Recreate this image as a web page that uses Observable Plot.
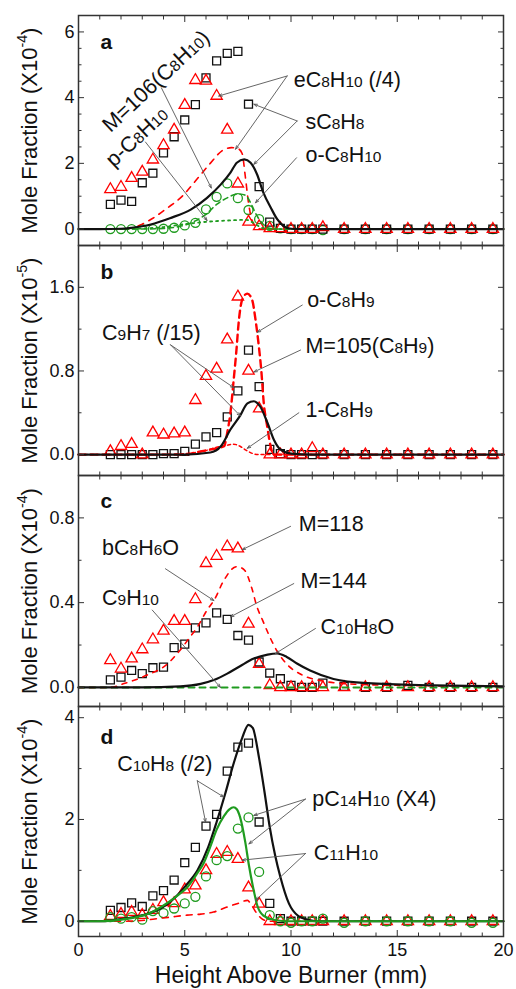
<!DOCTYPE html>
<html><head><meta charset="utf-8">
<script src="https://cdn.jsdelivr.net/npm/d3@7"></script>
<script src="https://cdn.jsdelivr.net/npm/@observablehq/plot@0.6"></script>
<style>
html,body{margin:0;padding:0;background:#fff;}
#chart svg{display:block;overflow:visible;}
</style></head>
<body><div id="chart"></div>
<script>
// ---------- data ----------
const hab = [1.5,2,2.5,3,3.5,4,4.5,5,5.5,6,6.5,7,7.5,8,8.5,9,9.5,10,10.5,11,11.5,12.5,13.5,14.5,15.5,16.5,17.5,18.5,19.5];

// panel a (X10^-4)
const a_M106   = [0.75,0.88,0.84,1.41,1.70,2.32,2.81,3.32,3.79,4.60,5.12,5.35,5.41,3.80,1.29,0.21,0.02,0,0,0,0,0,0,0,0,0,0,0,0];
const a_eC8H10 = [1.21,1.28,1.55,1.74,2.11,2.55,3.02,3.77,4.53,4.51,4.05,3.02,1.38,0.22,0.08,0.02,0.02,0,0,0,0.05,0,0,0,0,0,0,0,0];
const a_xylene = [0,0,0,0,0,0.01,0.04,0.11,0.19,0.60,0.98,1.39,0.94,0.58,0.30,0.10,0.02,0,0,0,-0.03,0,0,0,0,0,0,0,0];
const a_sC8H8_fx = [0,1,2,2.5,3.4,4.3,5.3,6.05,6.7,7.15,7.45,7.8,8.1,8.4,8.7,9.05,9.35,9.65,10,10.5,20];
const a_sC8H8_fy = [0,0,0.01,0.04,0.14,0.33,0.6,0.95,1.36,1.72,2.02,2.12,2.02,1.67,1.11,0.65,0.3,0.09,0.01,0,0];
const a_eC8H10_fx = [0,2,2.5,3,3.5,4.2,4.85,5.55,6.2,6.75,7.2,7.5,7.7,7.85,8.0,8.15,8.35,8.6,20];
const a_eC8H10_fy = [0,0,0.03,0.15,0.33,0.65,0.98,1.5,2.0,2.38,2.48,2.45,2.3,1.6,0.8,0.3,0.08,0,0];
const a_oC8H10_fx = [0,3,4,5,5.5,6,6.5,7,7.5,7.85,8.1,8.3,8.5,8.7,9,9.5,20];
const a_oC8H10_fy = [0,0,0.02,0.12,0.25,0.45,0.75,0.95,1.07,1.03,0.8,0.52,0.3,0.14,0.02,0,0];
const a_pC8H10_fx = [0,2,3,4,5,6,7,7.9,8.2,8.5,8.8,9.1,20];
const a_pC8H10_fy = [0,0,0.02,0.06,0.15,0.22,0.26,0.28,0.2,0.08,0.01,0,0];

// panel b (X10^-5)
const b_C9H7 = [0,0,0,0,0,0.01,0.01,0.03,0.10,0.17,0.21,0.36,0.61,1.00,0.65,0.05,0.01,0,0,0,0,0,0,0,0,0,0,0,0];
const b_M105 = [0.03,0.08,0.10,0,0.21,0.19,0.20,0.21,0.52,0.75,0.82,1.10,1.51,0.80,0.44,0,0,0,0,0.06,0,0,0,0,0,0,0,0,0];
const b_C9H7_fx = [0,5,6.2,6.7,7.15,7.6,7.95,8.25,8.55,8.9,9.2,9.5,10,11,20];
const b_C9H7_fy = [0,0,0.02,0.08,0.24,0.37,0.49,0.51,0.46,0.3,0.14,0.05,0.01,0,0];
const b_oC8H9_fx = [0,5,5.5,6,6.5,6.85,7.0,7.15,7.3,7.42,7.55,7.7,7.94,8.17,8.33,8.49,8.6,8.72,8.88,9.04,9.2,20];
const b_oC8H9_fy = [0,0,0.02,0.04,0.06,0.08,0.21,0.4,0.71,0.97,1.29,1.48,1.54,1.48,1.29,1.03,0.81,0.49,0.27,0.08,0,0];
const b_1C8H9_fx = [0,4,5,5.5,6,6.5,7,7.3,7.6,7.9,8.2,8.5,20];
const b_1C8H9_fy = [0,0,0.01,0.02,0.04,0.07,0.09,0.1,0.08,0.04,0.01,0,0];

// panel c (X10^-4)
const c_M118 = [0.128,0.088,0.136,0.179,0.226,0.267,0.313,0.313,0.416,0.586,0.62,0.665,0.655,0.30,0.11,0.01,0,0,0,0,0,0,0,0,0,0,0,0,0];
const c_M144 = [0.036,0.049,0.08,0.065,0.093,0.096,0.188,0.204,0.281,0.305,0.352,0.321,0.245,0.223,0.12,0.068,0.041,0.01,0,0,0.02,0.005,0,0,0.01,0,0,0,0];
const c_bC8H6O_fx = [0,1.5,2.1,3.2,4.2,4.65,5.25,5.6,6.05,6.4,6.85,7.45,7.8,8.15,8.4,8.65,8.95,9.35,9.8,10.5,11.5,13,15,20];
const c_bC8H6O_fy = [0,0,0.017,0.057,0.112,0.16,0.238,0.286,0.365,0.415,0.507,0.57,0.555,0.47,0.38,0.32,0.25,0.17,0.11,0.06,0.03,0.015,0.01,0.005];
const c_C10H8O_fx = [0,3,4.8,5.75,6.4,7.0,7.6,8.25,8.9,9.35,9.8,10.3,10.9,12,13.6,16.7,20];
const c_C10H8O_fy = [0,0,0.005,0.017,0.036,0.065,0.1,0.136,0.155,0.16,0.144,0.112,0.08,0.04,0.02,0.01,0.005];
const c_C9H10_fx = [0,20];
const c_C9H10_fy = [0,0];

// panel d (X10^-4)
const d_C10H8   = [0.215,0.27,0.36,0.29,0.5,0.6,0.81,1.15,1.45,1.87,2.1,2.95,3.42,3.5,1.95,0.35,0.05,0,0,0,0,0,0,0,0,0,0,0,0];
const d_C11H10  = [0.1,0.14,0.18,0.12,0.22,0.37,0.35,0.62,0.7,1.0,1.32,1.36,1.22,0.66,0.34,0,0,0,0,0,0,0,0,0,0,0,0,0,0];
const d_pC14H10 = [0.08,0.05,0.08,0.03,0.2,0.16,0.25,0.35,0.48,0.88,1.2,1.28,1.82,2.04,0.97,0.12,0,-0.03,0,0,0.05,-0.03,0,0,0,0,0,-0.03,-0.03];
const d_C10H8_fx = [0,1,2.3,3.2,3.9,4.5,5.05,5.6,6.1,6.5,6.9,7.3,7.7,8.0,8.2,8.5,8.75,9.0,9.25,9.5,9.9,10.35,10.8,11.2,20];
const d_C10H8_fy = [0,0,0.06,0.14,0.26,0.45,0.7,1.0,1.45,1.95,2.5,3.1,3.6,3.86,3.8,3.2,2.55,1.85,1.3,0.87,0.35,0.1,0.03,0,0];
const d_pC14H10_fx = [0,1,2.5,3.3,4.0,4.7,5.1,5.6,5.9,6.2,6.5,6.85,7.1,7.3,7.45,7.6,7.85,8.02,8.2,8.42,8.7,9.1,9.5,10,20];
const d_pC14H10_fy = [0,0,0.06,0.15,0.31,0.52,0.66,0.95,1.15,1.46,1.8,2.07,2.2,2.24,2.2,2.05,1.55,1.1,0.7,0.3,0.11,0.04,0.01,0,0];
const d_C11H10_fx = [0,2,3.1,3.7,4.3,5.1,5.75,6.35,7.0,7.5,7.95,8.15,8.4,8.7,9,20];
const d_C11H10_fy = [0,0,0.02,0.05,0.08,0.12,0.14,0.18,0.28,0.35,0.41,0.31,0.15,0.03,0,0];

// axes
const xMajor = [0,5,10,15,20];
const xMinor = [1,2,3,4,6,7,8,9,11,12,13,14,16,17,18,19];
const xTickLabels = ["0","5","10","15","20"];
const xTitle = "Height Above Burner (mm)";
const a_yMajor = [0,2,4,6], a_yMinor = [0.5,1,1.5,2.5,3,3.5,4.5,5,5.5], a_yTickLabels = ["0","2","4","6"];
const b_yMajor = [0,0.8,1.6], b_yMinor = [0.4,1.2], b_yTickLabels = ["0.0","0.8","1.6"];
const c_yMajor = [0,0.4,0.8], c_yMinor = [0.2,0.6], c_yTickLabels = ["0.0","0.4","0.8"];
const d_yMajor = [0,2,4], d_yMinor = [1,3], d_yTickLabels = ["0","2","4"];
const yTitles = ["Mole Fraction (X10⁻⁴)","Mole Fraction (X10⁻⁵)","Mole Fraction (X10⁻⁴)","Mole Fraction (X10⁻⁴)"];
const panelLetters = ["a","b","c","d"];

// annotations (data coordinates)
const a_notes = [
  {x:3.65, y:4.5, label:"M=106(C8H10)", rotate:-43},
  {x:2.75, y:2.8, label:"p-C8H10", rotate:-43},
  {x:10.13, y:4.33, label:"eC8H10 (/4)"},
  {x:10.68, y:3.06, label:"sC8H8"},
  {x:10.68, y:2.04, label:"o-C8H10"}
];
const a_arrows = [
  {x1:3.9,y1:4.3,x2:6.25,y2:1.25},
  {x1:3.15,y1:2.65,x2:6.05,y2:0.26},
  {x1:9.82,y1:4.66,x2:6.6,y2:4.05},
  {x1:9.82,y1:4.66,x2:7.39,y2:2.43},
  {x1:10.29,y1:3.29,x2:8.25,y2:3.8},
  {x1:10.29,y1:3.29,x2:8.25,y2:1.97},
  {x1:10.26,y1:2.17,x2:8.33,y2:0.8}
];
const b_notes = [
  {x:10.76, y:1.41, label:"o-C8H9"},
  {x:10.68, y:0.97, label:"M=105(C8H9)"},
  {x:1.11, y:1.1, label:"C9H7 (/15)"},
  {x:10.68, y:0.36, label:"1-C8H9"}
];
const b_arrows = [
  {x1:10.53,y1:1.43,x2:8.41,y2:1.17},
  {x1:10.45,y1:1.0,x2:8.25,y2:0.79},
  {x1:4.33,y1:1.05,x2:7.31,y2:0.64},
  {x1:4.33,y1:1.05,x2:7.62,y2:0.37},
  {x1:10.37,y1:0.4,x2:7.94,y2:0.06}
];
const c_notes = [
  {x:10.37, y:0.736, label:"M=118"},
  {x:1.11, y:0.626, label:"bC8H6O"},
  {x:10.45, y:0.468, label:"M=144"},
  {x:1.11, y:0.389, label:"C9H10"},
  {x:11.39, y:0.254, label:"C10H8O"}
];
const c_arrows = [
  {x1:9.98,y1:0.76,x2:7.7,y2:0.65},
  {x1:4.09,y1:0.56,x2:6.37,y2:0.41},
  {x1:10.13,y1:0.49,x2:7.15,y2:0.333},
  {x1:3.47,y1:0.365,x2:6.68,y2:0.0},
  {x1:11.15,y1:0.278,x2:9.27,y2:0.16}
];
const d_notes = [
  {x:1.82, y:2.96, label:"C10H8 (/2)"},
  {x:11.0, y:2.27, label:"pC14H10 (X4)"},
  {x:11.07, y:1.2, label:"C11H10"}
];
const d_arrows = [
  {x1:5.59,y1:2.76,x2:5.98,y2:1.95},
  {x1:5.59,y1:2.76,x2:6.84,y2:2.44},
  {x1:10.68,y1:2.4,x2:8.25,y2:2.08},
  {x1:10.68,y1:2.4,x2:8.02,y2:1.52},
  {x1:10.68,y1:1.33,x2:7.7,y2:1.2},
  {x1:10.68,y1:1.33,x2:8.33,y2:0.41}
];

// ---------- drawing ----------
const FONT = "'Liberation Sans', Arial, Helvetica, sans-serif";
const RED = "#ff0000", GREEN = "#1f9b1f", BLACK = "#111";
const pts = (xs, ys) => xs.map((x, i) => ({x, y: ys[i]}));

const panels = [
  {height:245, mt:15, mb:0, dom:[-0.5,6.5], maj:a_yMajor, min:a_yMinor, lab:a_yTickLabels, letterDy:33,
   lines:[
     {x:a_eC8H10_fx, y:a_eC8H10_fy, c:RED, w:1.6, dash:"6,6"},
     {x:a_oC8H10_fx, y:a_oC8H10_fy, c:GREEN, w:1.6, dash:"5,4"},
     {x:a_pC8H10_fx, y:a_pC8H10_fy, c:GREEN, w:1.8, dash:"2,4"},
     {x:a_sC8H8_fx, y:a_sC8H8_fy, c:BLACK, w:2.2}
   ],
   dots:[
     {y:a_xylene, c:GREEN, s:"circle", r:4.5},
     {y:a_M106, c:BLACK, s:"square", r:4.5},
     {y:a_eC8H10, c:RED, s:"triangle", r:4.2}
   ], notes:a_notes, arrows:a_arrows},
  {height:230, mt:0, mb:0, dom:[-0.2,2.0], maj:b_yMajor, min:b_yMinor, lab:b_yTickLabels, letterDy:33,
   lines:[
     {x:b_oC8H9_fx, y:b_oC8H9_fy, c:RED, w:2.4, dash:"7,5"},
     {x:b_1C8H9_fx, y:b_1C8H9_fy, c:RED, w:1.5, dash:"3,3"},
     {x:b_C9H7_fx, y:b_C9H7_fy, c:BLACK, w:2.2}
   ],
   dots:[
     {y:b_C9H7, c:BLACK, s:"square", r:4.5},
     {y:b_M105, c:RED, s:"triangle", r:4.2}
   ], notes:b_notes, arrows:b_arrows},
  {height:231, mt:0, mb:0, dom:[-0.09,1.0], maj:c_yMajor, min:c_yMinor, lab:c_yTickLabels, letterDy:32,
   lines:[
     {x:c_C9H10_fx, y:c_C9H10_fy, c:GREEN, w:2, dash:"6,5"},
     {x:c_bC8H6O_fx, y:c_bC8H6O_fy, c:RED, w:1.6, dash:"5,6"},
     {x:c_C10H8O_fx, y:c_C10H8O_fy, c:BLACK, w:2.2}
   ],
   dots:[
     {y:c_M144, c:BLACK, s:"square", r:4.5},
     {y:c_M118, c:RED, s:"triangle", r:4.2}
   ], notes:c_notes, arrows:c_arrows},
  {height:283, mt:0, mb:53, dom:[-0.3,4.22], maj:d_yMajor, min:d_yMinor, lab:d_yTickLabels, letterDy:37, xlab:true,
   lines:[
     {x:d_C11H10_fx, y:d_C11H10_fy, c:RED, w:1.6, dash:"6,6"},
     {x:d_C10H8_fx, y:d_C10H8_fy, c:BLACK, w:2.2},
     {x:d_pC14H10_fx, y:d_pC14H10_fy, c:GREEN, w:2.2}
   ],
   dots:[
     {y:d_C10H8, c:BLACK, s:"square", r:4.5},
     {y:d_C11H10, c:RED, s:"triangle", r:4.2},
     {y:d_pC14H10, c:GREEN, s:"circle", r:4.5}
   ], notes:d_notes, arrows:d_arrows}
];

const SUP = {"⁻":"-","⁰":"0","¹":"1","²":"2","³":"3","⁴":"4","⁵":"5","⁶":"6","⁷":"7","⁸":"8","⁹":"9"};
function formatChem(el) {
  const s = el.textContent;
  const re = /([CHO])(\d+)|([⁻⁰¹²³⁴⁵⁶⁷⁸⁹]+)/g;
  if (!re.test(s)) return;
  re.lastIndex = 0;
  const fs = parseFloat(getComputedStyle(el).fontSize) || 20;
  while (el.firstChild) el.removeChild(el.firstChild);
  let last = 0, shift = 0, m;
  const add = (str, size, dy) => {
    const t = document.createElementNS("http://www.w3.org/2000/svg", "tspan");
    t.textContent = str;
    if (size) t.setAttribute("font-size", size);
    if (dy) t.setAttribute("dy", dy);
    el.appendChild(t);
  };
  while ((m = re.exec(s))) {
    const pre = s.slice(last, m.index) + (m[1] || "");
    if (pre) { add(pre, null, -shift); shift = 0; }
    if (m[2]) { add(m[2], (fs * 0.72) + "px", -shift); shift = 0; }
    else { const sup = [...m[3]].map(c => SUP[c]).join(""); const d = -fs * 0.42; add(sup, (fs * 0.65) + "px", d - shift); shift = d; }
    last = re.lastIndex;
  }
  const rest = s.slice(last);
  if (rest) add(rest, null, -shift);
}

const root = document.getElementById("chart");
panels.forEach((p, k) => {
  const tick = {fill: "none", stroke: "#333", label: null};
  const ylabMap = new Map(p.maj.map((v, i) => [v, p.lab[i]]));
  const xlabMap = new Map(xMajor.map((v, i) => [v, xTickLabels[i]]));
  const marks = [
    ...p.dots.map(d => Plot.dot(pts(hab, d.y), {x: "x", y: "y", symbol: d.s, r: d.r, stroke: d.c, fill: "none", strokeWidth: 1.3})),
    ...p.lines.map(l => Plot.line(pts(l.x, l.y), {x: "x", y: "y", stroke: l.c, strokeWidth: l.w, strokeDasharray: l.dash, curve: "monotone-x"})),
    Plot.arrow(p.arrows, {x1: "x1", y1: "y1", x2: "x2", y2: "y2", stroke: "#555", strokeWidth: 0.9, headLength: 6, headAngle: 40}),
    Plot.text(p.notes.filter(n => n.rotate == null), {x: "x", y: "y", text: "label", textAnchor: "start", lineAnchor: "bottom", fontSize: 21.5, fill: BLACK}),
    Plot.text(p.notes.filter(n => n.rotate != null), {x: "x", y: "y", text: "label", rotate: "rotate", textAnchor: "middle", lineAnchor: "middle", fontSize: 21.5, fill: BLACK}),
    Plot.axisX({anchor: "bottom", ticks: xMajor, tickSize: -6, ...tick}),
    Plot.axisX({anchor: "top", ticks: xMajor, tickSize: -6, ...tick}),
    Plot.axisX({anchor: "bottom", ticks: xMinor, tickSize: -3.5, ...tick}),
    Plot.axisX({anchor: "top", ticks: xMinor, tickSize: -3.5, ...tick}),
    Plot.axisY({anchor: "left", ticks: p.maj, tickSize: -6, ...tick}),
    Plot.axisY({anchor: "right", ticks: p.maj, tickSize: -6, ...tick}),
    Plot.axisY({anchor: "left", ticks: p.min, tickSize: -3.5, ...tick}),
    Plot.axisY({anchor: "right", ticks: p.min, tickSize: -3.5, ...tick}),
    Plot.axisY({anchor: "left", ticks: p.maj, tickSize: 0, tickPadding: 4, tickFormat: d => ylabMap.get(d), fontSize: 18, label: null, fill: BLACK}),
    Plot.frame({stroke: "#333", strokeWidth: 1.5}),
    Plot.text([panelLetters[k]], {text: d => d, frameAnchor: "top-left", dx: 22, dy: p.letterDy, lineAnchor: "bottom", textAnchor: "start", fontWeight: "bold", fontSize: 21, fill: BLACK}),
    Plot.text([yTitles[k]], {text: d => d, frameAnchor: "left", dx: -42, rotate: -90, lineAnchor: "bottom", textAnchor: "middle", fontSize: 22, fill: BLACK})
  ];
  if (p.xlab) {
    marks.push(Plot.axisX({anchor: "bottom", ticks: xMajor, tickSize: 0, tickPadding: 7, tickFormat: d => xlabMap.get(d), fontSize: 18, label: null, fill: BLACK}));
    marks.push(Plot.text([xTitle], {text: d => d, frameAnchor: "bottom", dy: 46, lineAnchor: "bottom", fontSize: 23, fill: BLACK}));
  }
  const svg = Plot.plot({
    width: 516, height: p.height,
    marginLeft: 78, marginRight: 13, marginTop: p.mt, marginBottom: p.mb,
    x: {domain: [0, 20]},
    y: {domain: p.dom},
    style: {fontFamily: FONT, fontSize: "18px", background: "transparent", overflow: "visible", color: BLACK},
    marks
  });
  root.append(svg);
  svg.querySelectorAll("text").forEach(formatChem);
});
</script>
</body></html>
